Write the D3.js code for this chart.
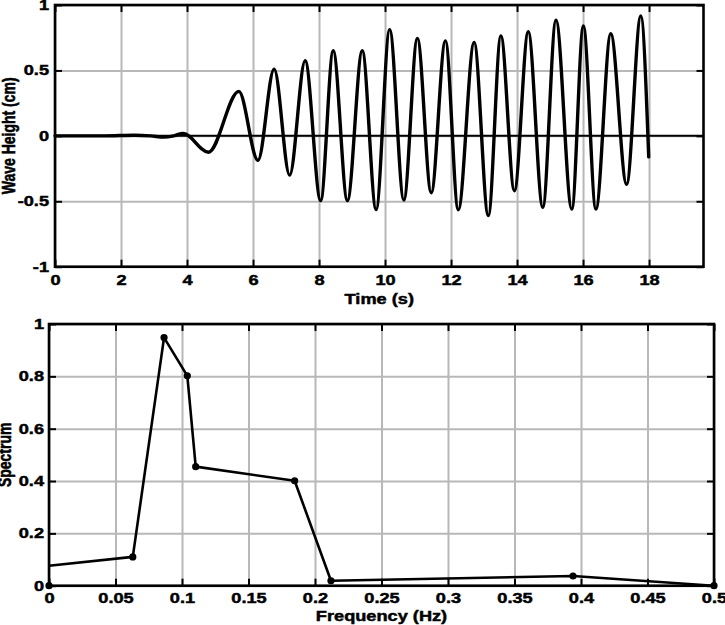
<!DOCTYPE html>
<html>
<head>
<meta charset="utf-8">
<script src="https://cdn.jsdelivr.net/npm/d3@7"></script>
<style>
  html, body { margin: 0; padding: 0; background: #ffffff; }
  svg { display: block; }
  text { font-family: "Liberation Sans", Arial, sans-serif; font-weight: bold; stroke: #000; stroke-width: 0.45px; }
</style>
</head>
<body>
<svg id="chart" width="725" height="625"></svg>
<script>
// ---- Top panel: wave record (extrema) ----
const waveTime = [0, 1.5, 2.4, 2.9, 3.3, 3.6, 3.88, 4.65, 5.57, 6.15, 6.64, 7.11, 7.58, 8.05, 8.43, 8.86,
  9.31, 9.73, 10.14, 10.57, 10.98, 11.40, 11.83, 12.22, 12.70, 13.13, 13.51, 13.92, 14.34, 14.78,
  15.18, 15.66, 16.01, 16.39, 16.84, 17.32, 17.75, 17.99];
const waveHeight = [0, 0, 0.005, 0, -0.01, 0, 0.019, -0.125, 0.34, -0.187, 0.51, -0.30, 0.574, -0.495, 0.65, -0.495,
  0.65, -0.563, 0.812, -0.49, 0.745, -0.435, 0.726, -0.565, 0.713, -0.61, 0.764, -0.42, 0.795, -0.546,
  0.884, -0.56, 0.84, -0.56, 0.78, -0.37, 0.916, -0.161];
const timeTicks = [0, 2, 4, 6, 8, 10, 12, 14, 16, 18];
const timeTickLabels = ["0", "2", "4", "6", "8", "10", "12", "14", "16", "18"];
const heightTicks = [-1, -0.5, 0, 0.5, 1];
const heightTickLabels = ["-1", "-0.5", "0", "0.5", "1"];
const timeDomain = [0, 19.65];

// ---- Bottom panel: spectrum ----
const freq = [0, 0.063, 0.0865, 0.104, 0.1103, 0.1847, 0.212, 0.394, 0.5];
const spectrum = [0.076, 0.11, 0.948, 0.802, 0.455, 0.401, 0.019, 0.037, 0];
const markerFreq = [0, 0.063, 0.0865, 0.104, 0.1103, 0.1847, 0.212, 0.394, 0.5];
const markerSpec = [0, 0.11, 0.948, 0.802, 0.455, 0.401, 0.019, 0.037, 0];
const freqTicks = [0, 0.05, 0.1, 0.15, 0.2, 0.25, 0.3, 0.35, 0.4, 0.45, 0.5];
const freqTickLabels = ["0", "0.05", "0.1", "0.15", "0.2", "0.25", "0.3", "0.35", "0.4", "0.45", "0.5"];
const specTicks = [0, 0.2, 0.4, 0.6, 0.8, 1];
const specTickLabels = ["0", "0.2", "0.4", "0.6", "0.8", "1"];

const svg = d3.select("#chart");
const SX = 1.3; // horizontal stretch of the lettering in the reference
const FS = 14;

function stretchText(sel) {
  sel.selectAll("text").each(function () {
    const t = d3.select(this);
    const x = +t.attr("x") || 0;
    t.attr("x", 0).attr("transform", `translate(${x},0) scale(${SX},1)`);
  });
}

function panel(cfg) {
  const { left, right, top, bottom } = cfg;
  const w = right - left, h = bottom - top;
  const x = d3.scaleLinear().domain(cfg.xDomain).range([0, w]);
  const y = d3.scaleLinear().domain(cfg.yDomain).range([h, 0]);
  const g = svg.append("g").attr("transform", `translate(${left},${top})`);

  // grid
  g.append("g").attr("class", "grid").attr("transform", `translate(0,${h})`)
    .call(d3.axisBottom(x).tickValues(cfg.xTicks).tickSize(-h).tickFormat(""));
  g.append("g").attr("class", "grid")
    .call(d3.axisLeft(y).tickValues(cfg.yTicks).tickSize(-w).tickFormat(""));
  g.selectAll(".grid .domain").remove();
  g.selectAll(".grid line").attr("stroke", "#b8b8b8").attr("stroke-width", 2);

  // tick marks (inward, all sides) + labels
  const tk = 7;
  const xLab = (d) => cfg.xTickLabels[cfg.xTicks.indexOf(d)];
  const yLab = (d) => cfg.yTickLabels[cfg.yTicks.indexOf(d)];
  const bx = g.append("g").attr("class", "ax").attr("transform", `translate(0,${h})`)
    .call(d3.axisBottom(x).tickValues(cfg.xTicks).tickSizeInner(-tk).tickSizeOuter(0)
      .tickPadding(cfg.xPad).tickFormat(xLab));
  const ly = g.append("g").attr("class", "ax")
    .call(d3.axisLeft(y).tickValues(cfg.yTicks).tickSizeInner(-tk).tickSizeOuter(0)
      .tickPadding(cfg.yPad).tickFormat(yLab));
  g.append("g").attr("class", "ax")
    .call(d3.axisTop(x).tickValues(cfg.xTicks).tickSizeInner(-tk).tickSizeOuter(0).tickFormat(""));
  g.append("g").attr("class", "ax").attr("transform", `translate(${w},0)`)
    .call(d3.axisRight(y).tickValues(cfg.yTicks).tickSizeInner(-tk).tickSizeOuter(0).tickFormat(""));
  g.selectAll(".ax .domain").remove();
  g.selectAll(".ax line").attr("stroke", "#000").attr("stroke-width", 2);
  g.selectAll(".ax").attr("font-family", null).attr("font-size", null);
  [bx, ly].forEach(a => {
    a.selectAll("text").attr("font-size", FS).attr("fill", "#000")
      .attr("font-family", "'Liberation Sans', Arial, sans-serif").attr("font-weight", "bold");
    stretchText(a);
  });

  // axis titles
  g.append("text").attr("text-anchor", "middle")
    .attr("transform", `translate(${w / 2},${cfg.xTitleY}) scale(${SX},1)`)
    .attr("font-size", FS).text(cfg.xTitle);
  g.append("text").attr("text-anchor", "middle")
    .attr("transform", `translate(${cfg.yTitleX},${h / 2}) scale(${SX},1) rotate(-90)`)
    .attr("font-size", FS).text(cfg.yTitle);

  return { g, x, y, w, h };
}

// ---------- top panel ----------
const p1 = panel({
  left: 55, right: 703.5, top: 5, bottom: 266.7,
  xDomain: timeDomain, yDomain: [-1, 1],
  xTicks: timeTicks, xTickLabels: timeTickLabels,
  yTicks: heightTicks, yTickLabels: heightTickLabels,
  xPad: 8.5, yPad: 6,
  xTitle: "Time (s)", xTitleY: 299,
  yTitle: "Wave Height (cm)", yTitleX: -40
});
// zero line
p1.g.append("line")
  .attr("x1", p1.x(timeDomain[0])).attr("x2", p1.x(timeDomain[1]))
  .attr("y1", p1.y(0)).attr("y2", p1.y(0))
  .attr("stroke", "#000").attr("stroke-width", 2);
const waveData = waveTime.map((t, i) => [t, waveHeight[i]]);
p1.g.append("path").datum(waveData)
  .attr("fill", "none").attr("stroke", "#000").attr("stroke-width", 3.4)
  .attr("stroke-linejoin", "round").attr("stroke-linecap", "round")
  .attr("d", d3.line().x(d => p1.x(d[0])).y(d => p1.y(d[1])).curve(d3.curveMonotoneX));

// frame
p1.g.append("rect").attr("width", p1.w).attr("height", p1.h)
  .attr("fill", "none").attr("stroke", "#000").attr("stroke-width", 2.6);

// ---------- bottom panel ----------
const p2 = panel({
  left: 49, right: 714, top: 324, bottom: 585.7,
  xDomain: [0, 0.5], yDomain: [0, 1],
  xTicks: freqTicks, xTickLabels: freqTickLabels,
  yTicks: specTicks, yTickLabels: specTickLabels,
  xPad: 7.5, yPad: 5,
  xTitle: "Frequency (Hz)", xTitleY: 297,
  yTitle: "Spectrum", yTitleX: -38
});
const specData = freq.map((f, i) => [f, spectrum[i]]);
p2.g.append("path").datum(specData)
  .attr("fill", "none").attr("stroke", "#000").attr("stroke-width", 2.6)
  .attr("stroke-linejoin", "round")
  .attr("d", d3.line().x(d => p2.x(d[0])).y(d => p2.y(d[1])));
p2.g.append("rect").attr("width", p2.w).attr("height", p2.h)
  .attr("fill", "none").attr("stroke", "#000").attr("stroke-width", 2.6);
p2.g.selectAll("circle.m").data(markerFreq.map((f, i) => [f, markerSpec[i]]))
  .enter().append("circle").attr("class", "m")
  .attr("cx", d => p2.x(d[0])).attr("cy", d => p2.y(d[1])).attr("r", 3.6).attr("fill", "#000");
</script>
</body>
</html>
